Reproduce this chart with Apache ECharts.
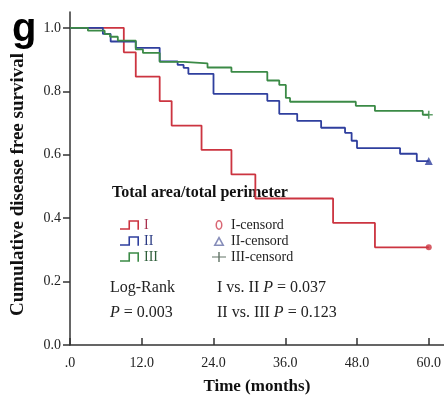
<!DOCTYPE html>
<html>
<head>
<meta charset="utf-8">
<script src="https://cdn.jsdelivr.net/npm/echarts@6/dist/echarts.min.js"></script>
<style>html,body{margin:0;padding:0;background:#fff;}#c{width:444px;height:402px;}</style>
</head>
<body>
<div id="c"></div>
<script>
// ---- data ----
const xTicks = [0, 12, 24, 36, 48, 60];
const yTicks = [0, 0.2, 0.4, 0.6, 0.8, 1.0];

const redT = [0, 9, 11, 15, 17, 22, 27, 31, 44, 51, 60];
const redS = [1, 0.923, 0.846, 0.769, 0.692, 0.615, 0.538, 0.462, 0.385, 0.308, 0.308];

const blueT = [0, 5.5, 6.8, 11, 15, 18, 19, 19.8, 24, 33, 35, 38, 42, 46, 47.1, 48, 55.2, 58, 60];
const blueS = [1, 0.981, 0.957, 0.937, 0.894, 0.883, 0.874, 0.855, 0.792, 0.770, 0.729, 0.707, 0.685, 0.669, 0.644, 0.621, 0.603, 0.580, 0.580];

const greenT = [0, 3, 5.8, 6.7, 8, 11, 12.2, 15, 19, 23, 27, 33, 35, 36.1, 36.8, 47.8, 51, 59, 60];
const greenS = [1, 0.991, 0.980, 0.972, 0.960, 0.932, 0.921, 0.893, 0.888, 0.875, 0.861, 0.834, 0.820, 0.779, 0.767, 0.754, 0.738, 0.726, 0.726];

const groupNames = ['I', 'II', 'III'];
const censorNames = ['I-censord', 'II-censord', 'III-censord'];

// ---- helpers ----
const zip = (t, s) => t.map((v, i) => [v, s[i]]);
const last = (t, s) => [[t[t.length - 1], s[s.length - 1]]];

const RED = '#cc3440', BLUE = '#2f3f9e', GREEN = '#3b8a46';
const serif = '"Liberation Serif", "DejaVu Serif", serif';

const stepIcon = 'path://M0,8 L8,8 L8,0.5 L18,0.5 L18,9.5 L16.5,9.5 L16.5,2 L9.5,2 L9.5,9.5 L0,9.5 Z';
const ellIcon = 'path://M4,0 A3.5,5 0 1,0 4,10 A3.5,5 0 1,0 4,0 Z M4,1.6 A2,3.4 0 1,1 4,8.4 A2,3.4 0 1,1 4,1.6 Z';
const triIcon = 'path://M5,0 L10,9 L0,9 Z M5,3 L2.4,7.6 L7.6,7.6 Z';
const plusIcon = 'path://M0,4.4 H6.3 V0 H7.7 V4.4 H14 V5.6 H7.7 V10 H6.3 V5.6 H0 Z';
const plusSym = 'path://M3.2,0 H4.8 V3.2 H8 V4.8 H4.8 V8 H3.2 V4.8 H0 V3.2 H3.2 Z';

const rich = { i: { fontStyle: 'italic', fontFamily: serif, fontSize: 16, fill: '#222' } };

const chart = echarts.init(document.getElementById('c'));
chart.setOption({
  animation: false,
  backgroundColor: '#fff',
  grid: { left: 70, right: 0, top: 12, bottom: 57 },
  xAxis: {
    type: 'value', min: 0, max: 62.5,
    name: 'Time (months)', nameLocation: 'middle', nameGap: 33,
    nameTextStyle: { fontFamily: serif, fontWeight: 'bold', fontSize: 17, color: '#111' },
    axisLine: { lineStyle: { color: '#333', width: 1.5 } },
    axisTick: { show: true, inside: true, length: 7, customValues: xTicks, lineStyle: { color: '#333', width: 1.5 } },
    axisLabel: { customValues: xTicks, margin: 11, fontFamily: serif, fontSize: 14, color: '#222',
      formatter: v => v === 0 ? '.0' : v.toFixed(1) },
    splitLine: { show: false }
  },
  yAxis: {
    type: 'value', min: 0, max: 1.05,
    name: 'Cumulative disease free survival', nameLocation: 'middle', nameGap: 42,
    nameTextStyle: { fontFamily: serif, fontWeight: 'bold', fontSize: 19, color: '#111', padding: [0, 12, 0, 0] },
    axisLine: { show: true, lineStyle: { color: '#333', width: 1.5 } },
    axisTick: { show: true, length: 7, customValues: yTicks, lineStyle: { color: '#333', width: 1.5 } },
    axisLabel: { customValues: yTicks, margin: 9, fontFamily: serif, fontSize: 14, color: '#222',
      formatter: v => v.toFixed(1) },
    splitLine: { show: false }
  },
  legend: [
    {
      orient: 'vertical', left: 115, top: 212, itemGap: 0, itemWidth: 19, itemHeight: 10,
      selectedMode: false,
      textStyle: { fontFamily: serif, fontSize: 14, lineHeight: 16 },
      data: [
        { name: 'I', icon: stepIcon, textStyle: { color: '#a8304e' } },
        { name: 'II', icon: stepIcon, textStyle: { color: '#2a3a82' } },
        { name: 'III', icon: stepIcon, textStyle: { color: '#2e5e3a' } }
      ]
    },
    {
      orient: 'vertical', left: 207, top: 212, itemGap: 0, itemWidth: 14, itemHeight: 10,
      selectedMode: false,
      textStyle: { fontFamily: serif, fontSize: 14, lineHeight: 16, color: '#222' },
      data: [
        { name: 'I-censord', icon: ellIcon, itemStyle: { color: '#d04050' } },
        { name: 'II-censord', icon: triIcon, itemStyle: { color: '#6870a8' } },
        { name: 'III-censord', icon: plusIcon, itemStyle: { color: '#3a5040' } }
      ]
    }
  ],
  graphic: [
    { type: 'text', left: 12, top: 10, style: { text: 'g', fontFamily: '"Liberation Sans", Arial, sans-serif', fontWeight: 'bold', fontSize: 40, fill: '#000' } },
    { type: 'text', x: 112, y: 193, style: { text: 'Total area/total perimeter', fontFamily: serif, fontWeight: 'bold', fontSize: 16, fill: '#111', verticalAlign: 'middle' } },
    { type: 'text', x: 110, y: 288, style: { text: 'Log-Rank', fontFamily: serif, fontSize: 16, fill: '#222', verticalAlign: 'middle' } },
    { type: 'text', x: 110, y: 313, style: { text: '{i|P} = 0.003', fontFamily: serif, fontSize: 16, fill: '#222', verticalAlign: 'middle', rich } },
    { type: 'text', x: 217, y: 288, style: { text: 'I vs. II {i|P} = 0.037', fontFamily: serif, fontSize: 16, fill: '#222', verticalAlign: 'middle', rich } },
    { type: 'text', x: 217, y: 313, style: { text: 'II vs. III {i|P} = 0.123', fontFamily: serif, fontSize: 16, fill: '#222', verticalAlign: 'middle', rich } }
  ],
  series: [
    { name: 'I', type: 'line', step: 'end', data: zip(redT, redS), showSymbol: false, symbol: 'none',
      lineStyle: { color: RED, width: 1.8 }, itemStyle: { color: RED } },
    { name: 'II', type: 'line', step: 'end', data: zip(blueT, blueS), showSymbol: false, symbol: 'none',
      lineStyle: { color: BLUE, width: 1.8 }, itemStyle: { color: BLUE } },
    { name: 'III', type: 'line', step: 'end', data: zip(greenT, greenS), showSymbol: false, symbol: 'none',
      lineStyle: { color: GREEN, width: 1.8 }, itemStyle: { color: GREEN } },
    { name: 'I-censord', type: 'scatter', data: last(redT, redS), symbol: 'circle', symbolSize: 6, itemStyle: { color: RED } },
    { name: 'II-censord', type: 'scatter', data: last(blueT, blueS), symbol: 'triangle', symbolSize: 8, itemStyle: { color: BLUE } },
    { name: 'III-censord', type: 'scatter', data: last(greenT, greenS), symbol: plusSym, symbolSize: 8, itemStyle: { color: GREEN } }
  ]
});
</script>
</body>
</html>
